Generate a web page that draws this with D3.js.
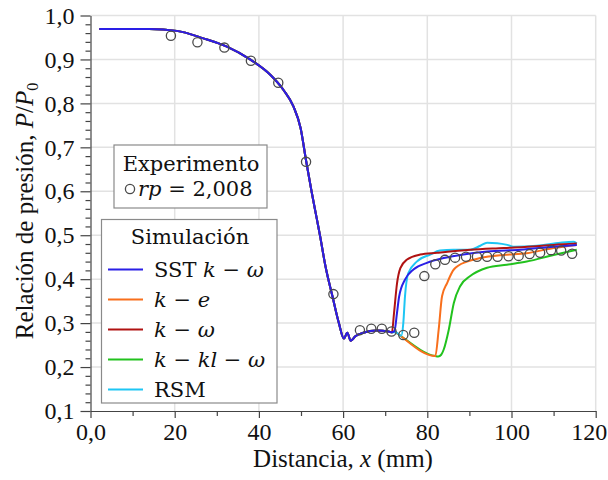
<!DOCTYPE html>
<html><head><meta charset="utf-8">
<script src="https://cdn.jsdelivr.net/npm/d3@7"></script>
<style>body{margin:0;background:#fff} svg{display:block}</style>
</head><body><svg id="c" width="608" height="480"></svg>
<script>
// ---- data ----
const commonX = [2.1, 14, 20.5, 26.8, 32.4, 37.9, 42.7, 45.8, 48.2, 49.9, 51.2, 52.5, 53.7, 54.5, 55.8, 57.5, 59.0, 60.2, 61.0, 61.8, 62.9, 64.8, 68.0, 70.8, 71.6];
const commonY = [0.969, 0.969, 0.965, 0.948, 0.929, 0.900, 0.865, 0.831, 0.793, 0.744, 0.670, 0.600, 0.540, 0.500, 0.430, 0.360, 0.300, 0.265, 0.278, 0.260, 0.270, 0.278, 0.283, 0.281, 0.279];

const sstX = [72.2, 72.8, 73.3, 74.7, 76.7, 79.9, 83.9, 87.8, 94.2, 102.1, 110, 115.5];
const sstY = [0.282, 0.323, 0.360, 0.399, 0.422, 0.437, 0.448, 0.455, 0.463, 0.467, 0.474, 0.478];

const keX = [72.2, 72.8, 81.9, 82.7, 83.5, 84.7, 86.3, 89.4, 92.6, 98.1, 103.6, 110, 115.5];
const keY = [0.281, 0.277, 0.225, 0.285, 0.361, 0.391, 0.422, 0.440, 0.448, 0.455, 0.459, 0.471, 0.478];

const kwX = [72.1, 72.8, 73.6, 75.1, 78.3, 82.3, 90.2, 98.1, 106, 110, 115.5];
const kwY = [0.323, 0.390, 0.425, 0.444, 0.456, 0.460, 0.467, 0.471, 0.475, 0.478, 0.481];

const kklX = [72.2, 72.8, 81.9, 82.6, 83.3, 83.9, 85.1, 86.3, 87.8, 90.2, 94.2, 98.9, 103.6, 110, 115.5];
const kklY = [0.281, 0.277, 0.225, 0.224, 0.228, 0.240, 0.285, 0.346, 0.384, 0.407, 0.426, 0.433, 0.440, 0.455, 0.467];

const rsmX = [72.5, 73.8, 74.3, 74.7, 75.5, 77.5, 80.7, 83.0, 86.2, 90.2, 92.6, 94.2, 96.6, 99.0, 100.5, 106, 111.6, 114.8, 115.5];
const rsmY = [0.279, 0.271, 0.300, 0.361, 0.414, 0.440, 0.456, 0.465, 0.467, 0.467, 0.476, 0.483, 0.482, 0.478, 0.474, 0.476, 0.483, 0.485, 0.481];

const expX = [19.1, 25.4, 31.8, 38.1, 44.6, 51.2, 57.7, 64.0, 66.7, 69.2, 71.5, 74.3, 76.9, 79.3, 81.9, 84.2, 86.6, 89.2, 91.8, 94.2, 96.7, 99.3, 101.7, 104.3, 106.8, 109.4, 111.8, 114.4];
const expY = [0.954, 0.939, 0.927, 0.897, 0.847, 0.667, 0.366, 0.284, 0.287, 0.287, 0.281, 0.273, 0.278, 0.407, 0.434, 0.444, 0.449, 0.451, 0.451, 0.451, 0.451, 0.452, 0.453, 0.457, 0.460, 0.466, 0.465, 0.458];

const xTicks = [0, 20, 40, 60, 80, 100, 120];
const xTickLabels = ["0,0", "20", "40", "60", "80", "100", "120"];
const yTicks = [0.1, 0.2, 0.3, 0.4, 0.5, 0.6, 0.7, 0.8, 0.9, 1.0];
const yTickLabels = ["0,1", "0,2", "0,3", "0,4", "0,5", "0,6", "0,7", "0,8", "0,9", "1,0"];

const seriesNames = ["SST k − ω", "k − e", "k − ω", "k − kl − ω", "RSM"];
const seriesColors = ["#2a1fe6", "#f86f1c", "#b01212", "#22c21e", "#1ec6f4"];

// ---- build ----
function zip(xs, ys) { return xs.map((x, i) => [x, ys[i]]); }
const common = zip(commonX, commonY);
const seriesData = [
  common.concat(zip(sstX, sstY)),
  common.concat(zip(keX, keY)),
  common.concat(zip(kwX, kwY)),
  common.concat(zip(kklX, kklY)),
  common.concat(zip(rsmX, rsmY))
];

const svg = d3.select("#c");
const x = d3.scaleLinear().domain([0, 120]).range([90.5, 595.7]);
const y = d3.scaleLinear().domain([0.1, 1.0]).range([411, 15.5]);

const tickFont = "'Liberation Serif', 'Times New Roman', serif";
const legFont = "'DejaVu Serif', serif";

// grid
svg.append("g").selectAll("line").data(yTicks.filter(v => v > 0.1)).join("line")
  .attr("x1", x(0)).attr("x2", x(120)).attr("y1", d => y(d)).attr("y2", d => y(d))
  .attr("stroke", "#e2e2e2").attr("stroke-width", 1.5);
svg.append("g").selectAll("line").data(xTicks.filter(v => v > 0)).join("line")
  .attr("x1", d => x(d)).attr("x2", d => x(d)).attr("y1", y(1.0)).attr("y2", y(0.1))
  .attr("stroke", "#e2e2e2").attr("stroke-width", 1.5);

// curves
const line = d3.line().x(d => x(d[0])).y(d => y(d[1])).curve(d3.curveMonotoneX);
const drawOrder = [3, 1, 4, 2, 0];
drawOrder.forEach(i => {
  svg.append("path").datum(seriesData[i]).attr("d", line)
    .attr("fill", "none").attr("stroke", seriesColors[i]).attr("stroke-width", 2)
    .attr("stroke-linejoin", "round");
});

// experiment points
svg.append("g").selectAll("circle").data(zip(expX, expY)).join("circle")
  .attr("cx", d => x(d[0])).attr("cy", d => y(d[1])).attr("r", 4.6)
  .attr("fill", "none").attr("stroke", "#4a4a4a").attr("stroke-width", 1.3);

// axes
const xAxis = d3.axisBottom(x).tickValues(xTicks).tickFormat((d, i) => xTickLabels[i]).tickSize(7).tickPadding(5).tickSizeOuter(0);
const gx = svg.append("g").attr("transform", `translate(0,${y(0.1)})`).call(xAxis);
// keep the last label inside the picture
gx.selectAll(".tick text").filter(d => d === 120).attr("text-anchor", "end").attr("x", 11);
const xMinor = d3.axisBottom(x).tickValues(d3.range(10, 120, 20)).tickFormat("").tickSize(5).tickSizeOuter(0);
svg.append("g").attr("transform", `translate(0,${y(0.1)})`).call(xMinor).select(".domain").remove();

const yAxis = d3.axisLeft(y).tickValues(yTicks).tickFormat((d, i) => yTickLabels[i]).tickSize(10).tickPadding(6).tickSizeOuter(0);
const gy = svg.append("g").attr("transform", `translate(${x(0)},0)`).call(yAxis);
const yMinor = d3.axisLeft(y).tickValues(d3.range(0.12, 1.0, 0.02).filter(v => Math.abs(v * 10 - Math.round(v * 10)) > 0.01)).tickFormat("").tickSize(5).tickSizeOuter(0);
svg.append("g").attr("transform", `translate(${x(0)},0)`).call(yMinor).select(".domain").remove();

svg.selectAll(".domain, .tick line").attr("stroke", "#444").attr("stroke-width", 1.2);
svg.selectAll(".tick text").attr("font-family", tickFont).attr("font-size", 24).attr("fill", "#111");

// axis titles
const xt = svg.append("text").attr("x", 343).attr("y", 467).attr("text-anchor", "middle")
  .attr("font-family", tickFont).attr("font-size", 25).attr("fill", "#111");
xt.append("tspan").text("Distancia, ");
xt.append("tspan").attr("font-style", "italic").text("x");
xt.append("tspan").text(" (mm)");

const yt = svg.append("text").attr("transform", "translate(33,211) rotate(-90)").attr("text-anchor", "middle")
  .attr("font-family", tickFont).attr("font-size", 25).attr("fill", "#111");
yt.append("tspan").text("Relación de presión, ");
yt.append("tspan").attr("font-style", "italic").text("P");
yt.append("tspan").text("/");
yt.append("tspan").attr("font-style", "italic").text("P");
yt.append("tspan").attr("font-size", 16).attr("dy", 5).text("0");

// legend: experiment
svg.append("rect").attr("x", 114).attr("y", 145).attr("width", 153).attr("height", 63)
  .attr("fill", "#fff").attr("stroke", "#8a8a8a").attr("stroke-width", 1.2);
svg.append("text").attr("x", 191).attr("y", 170.5).attr("text-anchor", "middle")
  .attr("font-family", legFont).attr("font-size", 21).attr("fill", "#111").text("Experimento");
svg.append("circle").attr("cx", 130).attr("cy", 189).attr("r", 4.6)
  .attr("fill", "none").attr("stroke", "#4a4a4a").attr("stroke-width", 1.3);
const et = svg.append("text").attr("x", 138).attr("y", 195.5)
  .attr("font-family", legFont).attr("font-size", 21).attr("fill", "#111");
et.append("tspan").attr("font-style", "italic").text("rp");
et.append("tspan").text(" = 2,008");

// legend: simulation
svg.append("rect").attr("x", 101.5).attr("y", 219.5).attr("width", 175.5).attr("height", 183.5)
  .attr("fill", "#fff").attr("stroke", "#8a8a8a").attr("stroke-width", 1.2);
svg.append("text").attr("x", 190).attr("y", 243.5).attr("text-anchor", "middle")
  .attr("font-family", legFont).attr("font-size", 21).attr("fill", "#111").text("Simulación");

const legParts = [
  [["SST ", false], ["k", true], [" − ", false], ["ω", true]],
  [["k", true], [" − ", false], ["e", true]],
  [["k", true], [" − ", false], ["ω", true]],
  [["k", true], [" − ", false], ["kl", true], [" − ", false], ["ω", true]],
  [["RSM", false]]
];
seriesNames.forEach((name, i) => {
  const ly = 269.5 + i * 30;
  svg.append("line").attr("x1", 108).attr("x2", 143).attr("y1", ly).attr("y2", ly)
    .attr("stroke", seriesColors[i]).attr("stroke-width", 2.2);
  const t = svg.append("text").attr("x", 154).attr("y", ly + 7)
    .attr("font-family", legFont).attr("font-size", 21).attr("fill", "#111");
  legParts[i].forEach(p => {
    const s = t.append("tspan").text(p[0]);
    if (p[1]) s.attr("font-style", "italic");
  });
});
</script></body></html>
